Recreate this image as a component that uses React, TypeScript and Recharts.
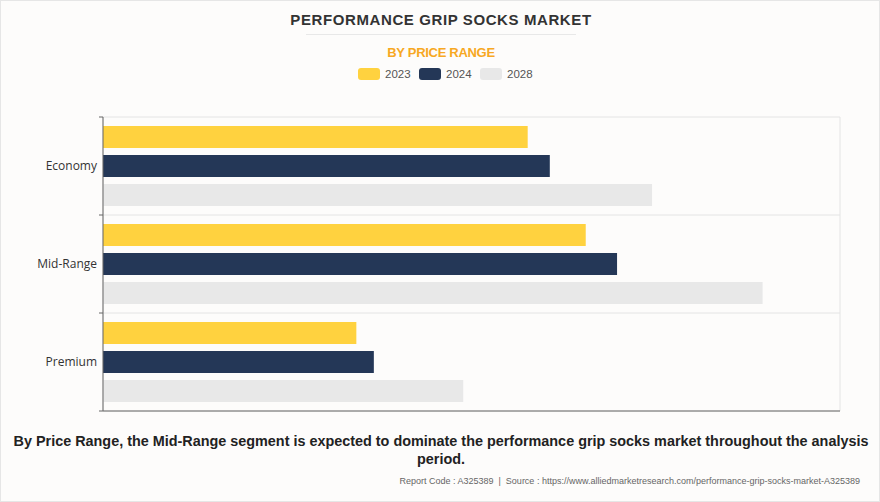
import React from "react";
import { BarChart, Bar, XAxis, YAxis, CartesianGrid } from "recharts";

const categories = ["Economy", "Mid-Range", "Premium"];
const series2023 = [4.61, 5.24, 2.75];
const series2024 = [4.85, 5.58, 2.94];
const series2028 = [5.96, 7.16, 3.91];
const xTicks = [0, 1, 2, 3, 4, 5, 6, 7, 8];
const years = ["2023", "2024", "2028"];
const colors = ["#FFD23F", "#243757", "#E8E8E8"];

const data = categories.map((name, i) => ({
  name,
  y2023: series2023[i],
  y2024: series2024[i],
  y2028: series2028[i],
}));

const BAND = 98;

const YTick = (props: any) => {
  const { x, y, payload, index } = props;
  const axisX = x + 6;
  return (
    <g>
      <text
        x={x}
        y={y}
        dy={4}
        textAnchor="end"
        fontSize={12}
        fontFamily="'Open Sans', sans-serif"
        fill="#333"
      >
        {payload.value}
      </text>
      {index === 0 && (
        <line x1={axisX - 4} x2={axisX} y1={y - BAND / 2} y2={y - BAND / 2} stroke="#666" />
      )}
      <line x1={axisX - 4} x2={axisX} y1={y + BAND / 2} y2={y + BAND / 2} stroke="#666" />
    </g>
  );
};

export default function App() {
  return (
    <div
      style={{
        position: "absolute",
        left: 0,
        top: 0,
        width: 880,
        height: 502,
        background: "#FDFCFB",
        boxSizing: "border-box",
        border: "1px solid #E6E6E6",
        fontFamily: "'Liberation Sans', Arial, sans-serif",
        overflow: "hidden",
      }}
    >
      <div
        style={{
          position: "absolute",
          top: 10,
          left: 0,
          width: 880,
          textAlign: "center",
          fontSize: 15,
          fontWeight: 900,
          letterSpacing: 0.6,
          color: "#333",
          lineHeight: "18px",
        }}
      >
        PERFORMANCE GRIP SOCKS MARKET
      </div>
      <div
        style={{
          position: "absolute",
          top: 33,
          left: 305,
          width: 270,
          height: 1,
          background: "#E8E8E8",
        }}
      />
      <div
        style={{
          position: "absolute",
          top: 44,
          left: 0,
          width: 880,
          textAlign: "center",
          fontSize: 13,
          fontWeight: 700,
          color: "#F7A823",
          lineHeight: "16px",
          letterSpacing: -0.3,
        }}
      >
        BY PRICE RANGE
      </div>
      <div
        style={{
          position: "absolute",
          top: 66,
          left: 357,
          display: "flex",
          alignItems: "center",
        }}
      >
        {years.map((yr, i) => (
          <div key={yr} style={{ display: "flex", alignItems: "center", width: 61 }}>
            <div
              style={{
                width: 22,
                height: 12,
                borderRadius: 3,
                background: colors[i],
                marginRight: 5,
              }}
            />
            <span style={{ fontSize: 11.5, color: "#555", lineHeight: "14px" }}>{yr}</span>
          </div>
        ))}
      </div>
      <div style={{ position: "absolute", left: -1, top: -1 }}>
        <BarChart
          width={880}
          height={430}
          data={data}
          layout="vertical"
          margin={{ top: 117, right: 40, left: 0, bottom: 5 }}
          barSize={22}
          barGap={7}
        >
          <CartesianGrid
            stroke="#E4E4E4"
            horizontalCoordinatesGenerator={({ offset }: any) => [
              offset.top,
              offset.top + offset.height / 3,
              offset.top + (2 * offset.height) / 3,
              offset.top + offset.height,
            ]}
          />
          <XAxis
            type="number"
            domain={[0, 8]}
            ticks={xTicks}
            tick={false}
            tickSize={4}
            height={14}
            axisLine={{ stroke: "#666" }}
            tickLine={{ stroke: "#666" }}
          />
          <YAxis
            type="category"
            dataKey="name"
            width={103}
            tick={<YTick />}
            tickLine={false}
            tickSize={4}
            tickMargin={2}
            axisLine={{ stroke: "#666" }}
          />
          <Bar dataKey="y2023" fill={colors[0]} isAnimationActive={false} />
          <Bar dataKey="y2024" fill={colors[1]} isAnimationActive={false} />
          <Bar dataKey="y2028" fill={colors[2]} isAnimationActive={false} />
        </BarChart>
      </div>
      <div
        style={{
          position: "absolute",
          top: 431,
          left: 0,
          width: 880,
          textAlign: "center",
          fontSize: 14.4,
          fontWeight: 700,
          color: "#222",
          lineHeight: "18px",
        }}
      >
        By Price Range, the Mid-Range segment is expected to dominate the performance grip socks market throughout the analysis period.
      </div>
      <div
        style={{
          position: "absolute",
          top: 474,
          right: 19,
          fontSize: 9,
          color: "#666",
          lineHeight: "12px",
          whiteSpace: "nowrap",
        }}
      >
        Report Code : A325389 &nbsp;|&nbsp; Source : https://www.alliedmarketresearch.com/performance-grip-socks-market-A325389
      </div>
    </div>
  );
}
